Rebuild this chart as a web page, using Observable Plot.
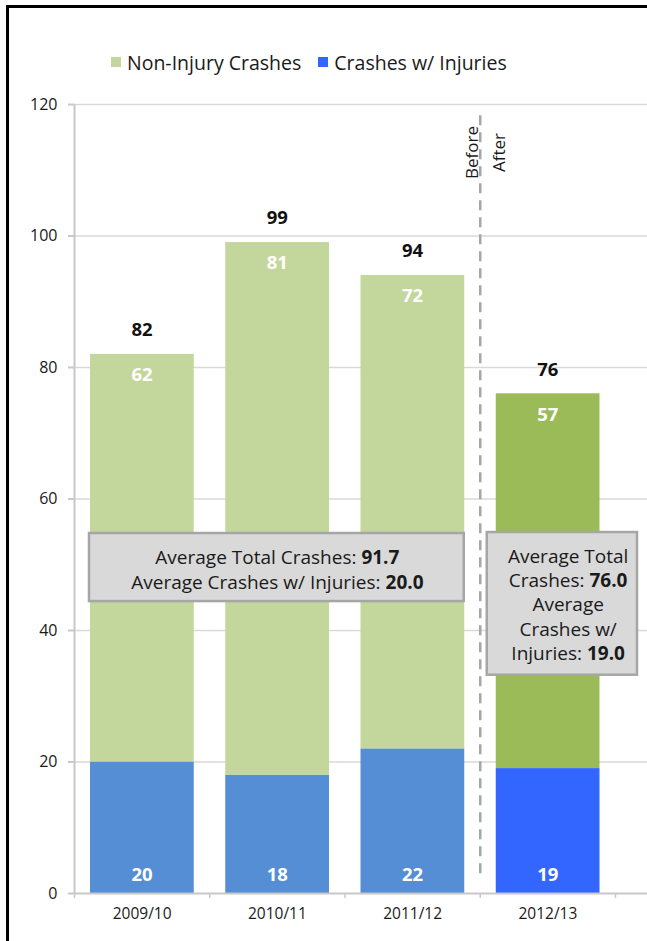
<!DOCTYPE html>
<html>
<head>
<meta charset="utf-8">
<script src="https://cdn.jsdelivr.net/npm/d3@7"></script>
<script src="https://cdn.jsdelivr.net/npm/@observablehq/plot@0.6"></script>
<style>
  html, body { margin: 0; padding: 0; background: #fff; overflow: hidden; }
  body { width: 647px; height: 941px; position: relative; font-family: "Open Sans", sans-serif; }
  #frame { position: absolute; left: 6px; top: 5px; width: 720px; height: 1000px;
           border-left: 3px solid #000; border-top: 3px solid #000; pointer-events: none; }
  #legend { height: 80px; box-sizing: border-box; padding-top: 44px; padding-left: 111px;
            display: flex; align-items: center; font-size: 19.5px; color: #1a1a1a; white-space: nowrap; }
  #legend .sw { width: 10px; height: 10px; display: inline-block; margin-right: 6px; }
  #legend .item { display: flex; align-items: center; margin-right: 17px; height: 24px; }
  #chart svg { display: block; }
  g[aria-label^="y-axis"] line, g[aria-label="y-axis tick"] path { stroke: #c8c8c8; stroke-width: 2; }
</style>
</head>
<body>
<div id="frame"></div>
<div id="legend"></div>
<div id="chart"></div>
<script>
// ---- data ----
const categories = ["2009/10", "2010/11", "2011/12", "2012/13"];
const nonInjury = [62, 81, 72, 57];
const withInjury = [20, 18, 22, 19];
const yTicks = [0, 20, 40, 60, 80, 100, 120];
const seriesNames = ["Non-Injury Crashes", "Crashes w/ Injuries"];
const periodLabels = ["Before", "After"];
const beforeCount = 3; // first three seasons are "before"

// ---- styles ----
const palette = {
  nonBefore: "#c3d69b", nonAfter: "#9bbb59",
  injBefore: "#558ed5", injAfter: "#3366ff",
  grid: "#d9d9d9", axis: "#c8c8c8", dash: "#a6a6a6",
  boxFill: "#d9d9d9", boxStroke: "#a6a6a6", text: "#1a1a1a"
};

const rows = categories.map((c, i) => ({
  cat: c, i0: i, i1: i + 1, mid: i + 0.5,
  non: nonInjury[i], inj: withInjury[i], total: nonInjury[i] + withInjury[i],
  after: i >= beforeCount
}));

const before = rows.filter(d => !d.after), after = rows.filter(d => d.after);
const fmt = d3.format(".1f");
const boxes = [
  { x1: 0, x2: beforeCount, cx: beforeCount / 2, y1: 44.4, y2: 54.75, cy: 49.4,
    text: `Average Total Crashes: |${fmt(d3.mean(before, d => d.total))}\nAverage Crashes w/ Injuries: |${fmt(d3.mean(before, d => d.inj))}`,
    insetLeft: 15, insetRight: 16, lineHeight: 1.29 },
  { x1: beforeCount, x2: categories.length, cx: 3.65, y1: 33.2, y2: 54.9, cy: 44.1,
    text: `Average Total\nCrashes: |${fmt(d3.mean(after, d => d.total))}\nAverage\nCrashes w/\nInjuries: |${fmt(d3.mean(after, d => d.inj))}`,
    insetLeft: 7, insetRight: -22, lineHeight: 1.28 }
];

// ---- legend ----
const legend = document.getElementById("legend");
[[seriesNames[0], palette.nonBefore], [seriesNames[1], palette.injAfter]].forEach(([name, col]) => {
  const it = document.createElement("span"); it.className = "item";
  const sw = document.createElement("span"); sw.className = "sw"; sw.style.background = col;
  it.appendChild(sw); it.appendChild(document.createTextNode(name));
  legend.appendChild(it);
});

// ---- chart ----
const W = 647, H = 861, mL = 74, mR = 0, mT = 24, mB = 48;
const tickRight = 615; // last category boundary
const xMax = categories.length * (W - mL - mR) / (tickRight - mL);

const chart = Plot.plot({
  width: W, height: H,
  marginLeft: mL, marginRight: mR, marginTop: mT, marginBottom: mB,
  style: { fontFamily: "'Open Sans', sans-serif", color: palette.text, background: "transparent", overflow: "visible" },
  x: { type: "linear", domain: [0, xMax], ticks: rows.map(d => d.mid),
       tickFormat: d => categories[Math.floor(d)], tickSize: 0, tickPadding: 14, label: null },
  y: { domain: [0, 120], ticks: yTicks, tickSize: 6, tickPadding: 11, label: null },
  marks: [
    Plot.ruleY(yTicks.filter(d => d > 0), { stroke: palette.grid, strokeWidth: 1.5 }),
    // bars
    Plot.rectY(rows, { x1: "i0", x2: "i1", y1: 0, y2: "inj", insetLeft: 16, insetRight: 15.5,
      fill: d => d.after ? palette.injAfter : palette.injBefore }),
    Plot.rectY(rows, { x1: "i0", x2: "i1", y1: "inj", y2: "total", insetLeft: 16, insetRight: 15.5,
      fill: d => d.after ? palette.nonAfter : palette.nonBefore }),
    // axes lines
    Plot.ruleY([0], { stroke: palette.axis, strokeWidth: 2 }),
    Plot.ruleX([0], { y1: 0, y2: 120, stroke: palette.axis, strokeWidth: 2 }),
    Plot.ruleX(d3.range(categories.length + 1), { y1: 0, y2: 0, insetBottom: -5, stroke: palette.axis, strokeWidth: 1.5 }),
    // labels
    Plot.text(rows, { x: "mid", y: "total", text: "total", dy: -24, fontWeight: "bold", fontSize: 18.5, fill: "#111" }),
    Plot.text(rows, { x: "mid", y: "total", text: "non", dy: 21, fontWeight: "bold", fontSize: 18.5, fill: "#fff" }),
    Plot.text(rows, { x: "mid", y: 0, text: "inj", dy: -18, fontWeight: "bold", fontSize: 18.5, fill: "#fff" }),
    // before / after divider
    Plot.ruleX([beforeCount], { y1: 3, y2: 119, stroke: palette.dash, strokeWidth: 2.5, strokeDasharray: "10,7" }),
    Plot.text([periodLabels[0]], { x: beforeCount, y: 112.7, text: d => d, rotate: -90, dx: -8, fontSize: 17, fill: palette.text }),
    Plot.text([periodLabels[1]], { x: beforeCount, y: 112.7, text: d => d, rotate: -90, dx: 19, fontSize: 17, fill: palette.text }),
    // average boxes
    ...boxes.map(b => Plot.rect([b], { x1: "x1", x2: "x2", y1: "y1", y2: "y2",
      insetLeft: b.insetLeft, insetRight: b.insetRight,
      fill: palette.boxFill, stroke: palette.boxStroke, strokeWidth: 2.5 })),
    ...boxes.map(b => Plot.text([b], { x: "cx", y: "cy", text: "text", fontSize: 19,
      lineHeight: b.lineHeight, fill: "#1a1a1a" }))
  ]
});

// bold the numeric part after "|"
d3.select(chart).selectAll("text").each(function () {
  const spans = this.querySelectorAll("tspan");
  const targets = spans.length ? Array.from(spans) : [this];
  for (const el of targets) {
    const s = el.textContent;
    if (!s.includes("|")) continue;
    const [a, b] = s.split("|");
    el.textContent = a;
    const t = document.createElementNS("http://www.w3.org/2000/svg", "tspan");
    t.setAttribute("font-weight", "bold");
    t.textContent = b;
    el.appendChild(t);
  }
});
d3.select(chart).selectAll('g[aria-label="y-axis tick-label"] text, g[aria-label^="y-axis"] text').attr("font-size", 16);
d3.select(chart).selectAll('g[aria-label="x-axis tick-label"] text, g[aria-label^="x-axis"] text').attr("font-size", 15.5);

document.getElementById("chart").appendChild(chart);
</script>
</body>
</html>
